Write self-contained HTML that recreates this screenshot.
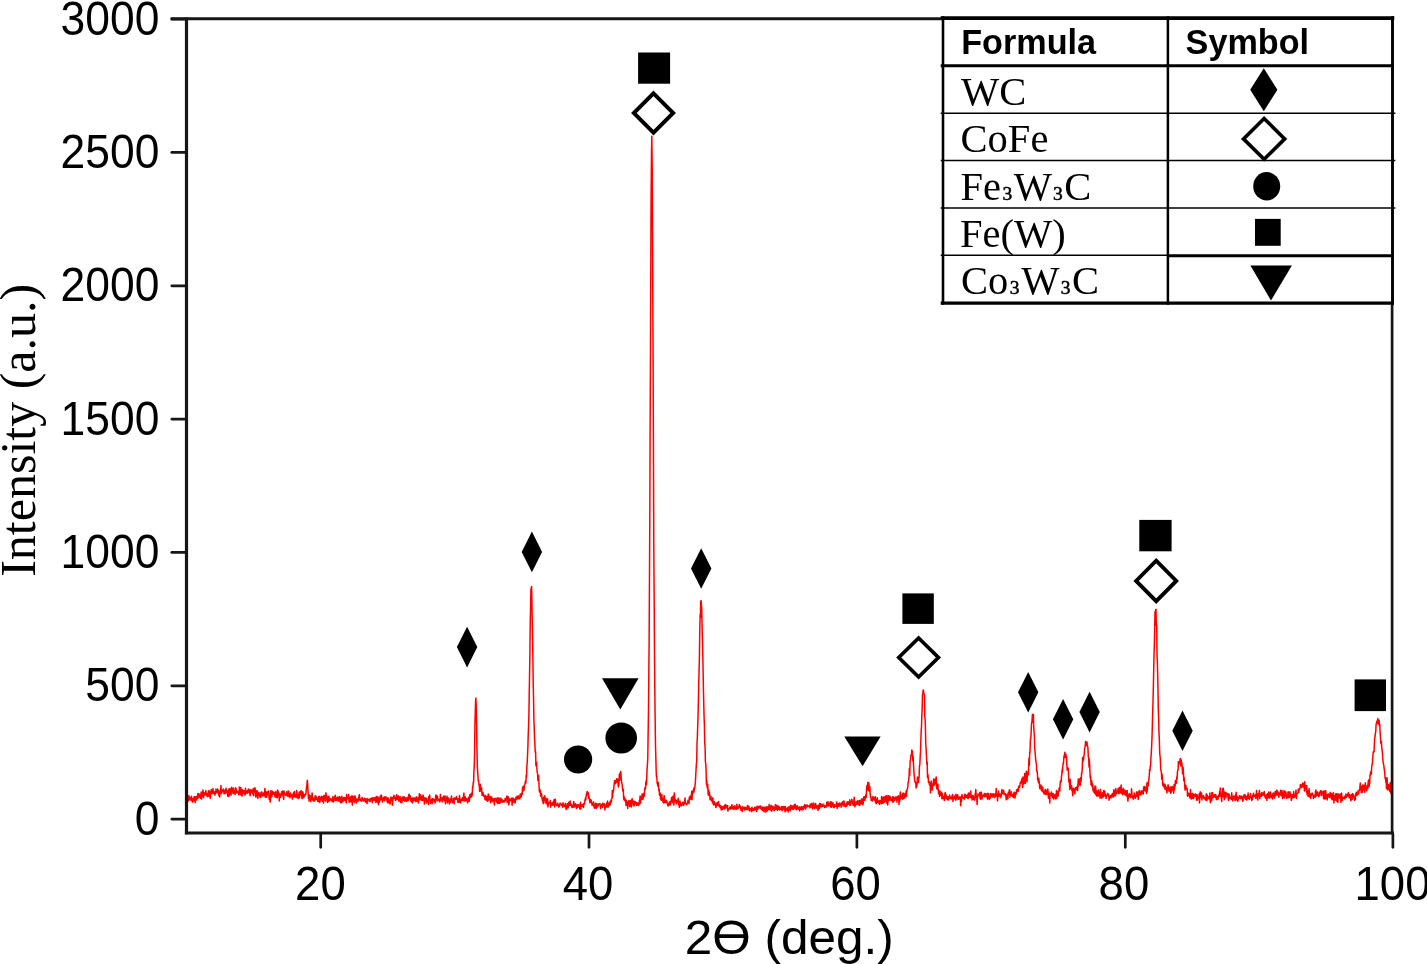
<!DOCTYPE html>
<html lang="en"><head><meta charset="utf-8"><title>XRD pattern</title>
<style>
html,body{margin:0;padding:0;background:#fff;}
body{width:1427px;height:964px;overflow:hidden;}
svg{display:block;}
.tk{font-family:"Liberation Sans",Arial,sans-serif;font-size:45.5px;fill:#000;}
.xl{font-family:"Liberation Sans",Arial,sans-serif;font-size:49.5px;fill:#000;}
.yl{font-family:"Liberation Serif","Times New Roman",serif;font-size:50px;fill:#000;}
.th{font-family:"Liberation Sans",Arial,sans-serif;font-weight:bold;font-size:34.2px;fill:#000;}
.tc{font-family:"Liberation Serif","Times New Roman",serif;font-size:40.5px;fill:#000;}
.sb{font-size:19.5px;stroke:#000;stroke-width:0.55px;}
</style></head><body>
<svg width="1427" height="964" viewBox="0 0 1427 964">
<rect width="1427" height="964" fill="#fff"/>
<clipPath id="pc"><rect x="186.5" y="19" width="1206" height="814"/></clipPath>
<g clip-path="url(#pc)">
<path fill="none" stroke="#ff0000" stroke-width="1.5" stroke-linejoin="round" d="M186.5 799.2L186.8 798.5L187.2 799.7L187.5 801.0L187.8 800.0L188.2 801.1L188.5 798.6L188.8 795.6L189.2 799.7L189.5 799.9L189.9 797.3L190.2 797.5L190.5 797.9L190.9 800.2L191.2 798.1
L191.5 796.3L191.9 800.9L192.2 798.8L192.5 802.0L192.9 800.5L193.2 801.7L193.5 797.9L193.9 800.2L194.2 796.5L194.5 796.7L194.9 797.4L195.2 802.8L195.5 798.0L195.9 796.8L196.2 796.3
L196.6 800.1L196.9 797.5L197.2 798.6L197.6 798.1L197.9 793.5L198.2 797.9L198.6 796.0L198.9 793.7L199.2 797.1L199.6 795.9L199.9 795.2L200.2 795.3L200.6 798.3L200.9 795.1L201.2 791.9
L201.6 798.9L201.9 792.9L202.2 794.7L202.6 796.5L202.9 789.9L203.3 792.8L203.6 797.6L203.9 794.4L204.3 793.0L204.6 794.9L204.9 792.6L205.3 794.4L205.6 792.5L205.9 790.5L206.3 795.7
L206.6 793.4L206.9 795.0L207.3 793.5L207.6 796.7L207.9 795.1L208.3 794.0L208.6 791.2L208.9 790.5L209.3 796.7L209.6 795.3L210.0 791.5L210.3 798.2L210.6 794.2L211.0 793.2L211.3 789.6
L211.6 791.0L212.0 793.5L212.3 793.6L212.6 793.2L213.0 788.6L213.3 793.6L213.6 793.2L214.0 791.5L214.3 792.6L214.6 792.8L215.0 795.1L215.3 792.2L215.6 793.3L216.0 789.1L216.3 790.3
L216.7 792.1L217.0 790.2L217.3 792.8L217.7 789.1L218.0 791.8L218.3 790.2L218.7 795.1L219.0 790.7L219.3 796.0L219.7 796.9L220.0 792.3L220.3 793.8L220.7 791.0L221.0 785.4L221.3 793.5
L221.7 792.9L222.0 790.7L222.3 789.9L222.7 791.6L223.0 791.6L223.4 789.1L223.7 789.6L224.0 793.7L224.4 791.1L224.7 790.7L225.0 793.6L225.4 790.1L225.7 793.1L226.0 788.2L226.4 790.3
L226.7 790.6L227.0 792.4L227.4 791.2L227.7 796.2L228.0 793.9L228.4 789.9L228.7 796.6L229.0 788.7L229.4 795.6L229.7 788.9L230.1 793.2L230.4 788.9L230.7 790.6L231.1 795.1L231.4 787.7
L231.7 787.2L232.1 791.2L232.4 791.7L232.7 791.5L233.1 793.6L233.4 788.1L233.7 792.5L234.1 791.2L234.4 793.2L234.7 792.8L235.1 794.5L235.4 787.8L235.7 791.5L236.1 788.6L236.4 791.1
L236.8 793.0L237.1 792.0L237.4 792.7L237.8 791.2L238.1 792.2L238.4 792.0L238.8 794.9L239.1 793.4L239.4 786.9L239.8 793.0L240.1 794.1L240.4 790.4L240.8 787.6L241.1 795.2L241.4 792.0
L241.8 793.1L242.1 796.1L242.4 789.6L242.8 791.6L243.1 791.4L243.5 793.6L243.8 790.4L244.1 793.1L244.5 792.1L244.8 794.6L245.1 794.9L245.5 788.3L245.8 793.1L246.1 791.1L246.5 792.0
L246.8 793.1L247.1 793.3L247.5 790.3L247.8 792.8L248.1 792.4L248.5 792.0L248.8 789.0L249.1 790.4L249.5 791.2L249.8 793.7L250.2 795.8L250.5 789.8L250.8 789.8L251.2 792.7L251.5 791.0
L251.8 790.4L252.2 790.3L252.5 790.1L252.8 793.7L253.2 788.6L253.5 795.8L253.8 790.4L254.2 791.3L254.5 790.4L254.8 787.8L255.2 788.9L255.5 795.7L255.8 797.1L256.2 790.7L256.5 795.4
L256.9 792.9L257.2 790.7L257.5 797.1L257.9 798.4L258.2 792.3L258.5 792.9L258.9 793.7L259.2 793.0L259.5 795.3L259.9 797.0L260.2 793.6L260.5 795.7L260.9 797.4L261.2 792.0L261.5 793.4
L261.9 792.3L262.2 795.8L262.5 795.0L262.9 795.9L263.2 795.6L263.6 792.9L263.9 795.4L264.2 792.6L264.6 792.6L264.9 788.4L265.2 797.1L265.6 791.3L265.9 793.8L266.2 793.6L266.6 797.3
L266.9 794.8L267.2 791.8L267.6 793.9L267.9 793.5L268.2 794.5L268.6 790.9L268.9 793.9L269.2 799.4L269.6 795.6L269.9 798.8L270.3 802.1L270.6 795.3L270.9 790.6L271.3 793.9L271.6 796.9
L271.9 796.4L272.3 791.2L272.6 793.7L272.9 794.0L273.3 794.2L273.6 794.0L273.9 792.1L274.3 792.8L274.6 793.7L274.9 796.8L275.3 793.0L275.6 796.0L275.9 791.6L276.3 797.5L276.6 794.7
L277.0 794.4L277.3 797.7L277.6 790.1L278.0 790.8L278.3 795.6L278.6 792.6L279.0 793.6L279.3 801.0L279.6 793.9L280.0 794.7L280.3 794.4L280.6 797.3L281.0 795.3L281.3 795.1L281.6 791.8
L282.0 793.9L282.3 794.8L282.6 791.0L283.0 796.2L283.3 795.8L283.7 799.3L284.0 791.0L284.3 792.5L284.7 792.7L285.0 793.3L285.3 794.7L285.7 794.4L286.0 795.6L286.3 795.5L286.7 794.9
L287.0 791.3L287.3 793.7L287.7 795.2L288.0 796.5L288.3 796.6L288.7 791.1L289.0 793.8L289.3 794.9L289.7 796.0L290.0 797.8L290.4 795.3L290.7 793.0L291.0 796.1L291.4 795.7L291.7 795.7
L292.0 794.9L292.4 799.1L292.7 795.8L293.0 797.3L293.4 793.1L293.7 797.1L294.0 793.8L294.4 791.5L294.7 796.0L295.0 796.7L295.4 794.8L295.7 795.3L296.0 797.7L296.4 794.2L296.7 790.4
L297.1 795.9L297.4 795.8L297.7 797.9L298.1 794.6L298.4 798.4L298.7 798.1L299.1 792.2L299.4 797.6L299.7 792.7L300.1 791.7L300.4 794.7L300.7 794.0L301.1 790.6L301.4 795.9L301.7 796.8
L302.1 798.7L302.4 795.3L302.7 791.7L303.1 793.0L303.4 797.7L303.8 797.5L304.1 796.7L304.4 794.7L304.8 795.9L305.1 794.7L305.4 794.0L305.8 794.5L306.1 791.9L306.4 788.2L306.8 785.6
L307.1 782.3L307.4 780.2L307.8 787.5L308.1 792.2L308.4 798.7L308.8 794.8L309.1 801.1L309.4 800.1L309.8 795.0L310.1 795.6L310.5 797.8L310.8 801.6L311.1 798.6L311.5 799.4L311.8 796.5
L312.1 792.9L312.5 797.6L312.8 799.9L313.1 800.9L313.5 798.3L313.8 798.6L314.1 800.9L314.5 798.0L314.8 800.9L315.1 795.8L315.5 795.9L315.8 795.9L316.1 799.4L316.5 797.2L316.8 798.7
L317.2 799.3L317.5 799.2L317.8 801.4L318.2 801.7L318.5 796.7L318.8 798.9L319.2 798.0L319.5 796.2L319.8 802.4L320.2 800.3L320.5 798.1L320.8 797.6L321.2 799.4L321.5 796.2L321.8 798.1
L322.2 801.3L322.5 800.7L322.8 796.7L323.2 797.5L323.5 802.9L323.9 795.5L324.2 797.2L324.5 795.5L324.9 799.4L325.2 799.2L325.5 801.1L325.9 792.8L326.2 799.0L326.5 795.0L326.9 800.0
L327.2 798.2L327.5 802.4L327.9 799.5L328.2 796.4L328.5 801.4L328.9 796.2L329.2 797.8L329.5 801.0L329.9 799.7L330.2 799.6L330.6 798.7L330.9 799.8L331.2 800.5L331.6 799.3L331.9 800.9
L332.2 801.5L332.6 798.7L332.9 796.6L333.2 802.1L333.6 798.6L333.9 800.1L334.2 800.8L334.6 796.7L334.9 799.8L335.2 795.3L335.6 800.4L335.9 797.8L336.2 799.2L336.6 800.4L336.9 797.3
L337.3 799.0L337.6 797.3L337.9 798.8L338.3 801.1L338.6 798.9L338.9 798.5L339.3 796.5L339.6 800.7L339.9 798.8L340.3 802.6L340.6 797.2L340.9 801.1L341.3 802.8L341.6 798.8L341.9 796.2
L342.3 802.1L342.6 801.1L342.9 800.4L343.3 801.2L343.6 797.8L344.0 800.5L344.3 800.3L344.6 797.4L345.0 800.4L345.3 797.7L345.6 800.9L346.0 801.4L346.3 802.9L346.6 794.5L347.0 799.4
L347.3 798.2L347.6 798.8L348.0 798.4L348.3 798.6L348.6 794.4L349.0 801.1L349.3 802.2L349.6 801.0L350.0 801.7L350.3 797.1L350.7 796.9L351.0 800.9L351.3 801.9L351.7 799.5L352.0 795.6
L352.3 805.1L352.7 797.6L353.0 801.2L353.3 796.4L353.7 801.2L354.0 799.4L354.3 802.2L354.7 801.0L355.0 795.7L355.3 796.9L355.7 799.7L356.0 800.7L356.3 803.1L356.7 799.7L357.0 798.9
L357.4 799.0L357.7 799.0L358.0 801.3L358.4 799.0L358.7 798.9L359.0 795.9L359.4 794.6L359.7 799.1L360.0 800.6L360.4 799.0L360.7 800.2L361.0 800.5L361.4 799.0L361.7 801.2L362.0 797.5
L362.4 799.1L362.7 798.3L363.0 799.3L363.4 800.5L363.7 801.0L364.1 799.4L364.4 800.1L364.7 798.3L365.1 798.9L365.4 801.9L365.7 798.7L366.1 801.9L366.4 800.3L366.7 799.6L367.1 803.6
L367.4 798.7L367.7 798.6L368.1 799.3L368.4 799.9L368.7 799.7L369.1 801.1L369.4 799.5L369.7 800.2L370.1 798.7L370.4 801.6L370.8 798.4L371.1 798.6L371.4 799.3L371.8 799.9L372.1 797.7
L372.4 802.7L372.8 797.9L373.1 798.4L373.4 798.3L373.8 798.1L374.1 800.4L374.4 799.5L374.8 797.5L375.1 798.0L375.4 798.5L375.8 802.4L376.1 797.8L376.4 796.4L376.8 796.7L377.1 798.5
L377.5 802.5L377.8 796.9L378.1 799.3L378.5 804.7L378.8 798.2L379.1 802.3L379.5 801.9L379.8 800.4L380.1 796.2L380.5 799.8L380.8 798.4L381.1 795.1L381.5 795.5L381.8 799.3L382.1 799.6
L382.5 801.9L382.8 800.6L383.1 798.1L383.5 798.2L383.8 798.8L384.2 796.8L384.5 800.8L384.8 799.2L385.2 797.4L385.5 797.8L385.8 796.7L386.2 798.2L386.5 799.8L386.8 798.3L387.2 801.3
L387.5 802.7L387.8 797.8L388.2 799.2L388.5 798.4L388.8 802.9L389.2 799.9L389.5 800.4L389.8 801.0L390.2 804.1L390.5 799.9L390.9 797.1L391.2 798.3L391.5 800.5L391.9 799.1L392.2 797.4
L392.5 805.3L392.9 799.4L393.2 797.9L393.5 797.6L393.9 795.3L394.2 796.6L394.5 798.4L394.9 798.5L395.2 797.4L395.5 800.4L395.9 799.2L396.2 797.1L396.5 794.8L396.9 799.5L397.2 799.3
L397.6 798.7L397.9 796.2L398.2 799.2L398.6 795.9L398.9 801.3L399.2 799.6L399.6 799.6L399.9 797.4L400.2 796.9L400.6 802.6L400.9 801.2L401.2 798.4L401.6 800.7L401.9 802.6L402.2 796.9
L402.6 798.1L402.9 798.1L403.2 800.3L403.6 796.9L403.9 799.8L404.3 796.8L404.6 801.3L404.9 801.1L405.3 798.8L405.6 800.8L405.9 797.7L406.3 798.7L406.6 801.3L406.9 799.1L407.3 800.0
L407.6 797.2L407.9 800.7L408.3 800.2L408.6 796.6L408.9 794.3L409.3 794.8L409.6 799.1L409.9 798.8L410.3 795.9L410.6 799.5L411.0 801.4L411.3 799.0L411.6 798.3L412.0 801.1L412.3 802.9
L412.6 802.5L413.0 797.8L413.3 801.0L413.6 799.6L414.0 798.8L414.3 797.9L414.6 800.0L415.0 798.2L415.3 801.3L415.6 800.1L416.0 801.6L416.3 796.8L416.6 799.4L417.0 801.0L417.3 800.1
L417.7 799.8L418.0 797.8L418.3 802.9L418.7 801.6L419.0 800.2L419.3 793.7L419.7 797.2L420.0 799.6L420.3 797.8L420.7 794.8L421.0 799.9L421.3 800.2L421.7 796.7L422.0 798.3L422.3 797.9
L422.7 800.5L423.0 795.1L423.3 795.6L423.7 798.1L424.0 797.8L424.4 803.9L424.7 798.0L425.0 799.8L425.4 798.4L425.7 797.9L426.0 800.1L426.4 803.1L426.7 798.6L427.0 801.0L427.4 800.1
L427.7 800.7L428.0 800.1L428.4 804.5L428.7 796.7L429.0 798.8L429.4 796.9L429.7 795.0L430.0 799.3L430.4 803.4L430.7 801.4L431.1 802.1L431.4 800.5L431.7 799.2L432.1 803.8L432.4 798.7
L432.7 802.8L433.1 798.8L433.4 799.7L433.7 800.1L434.1 799.6L434.4 800.6L434.7 800.8L435.1 803.1L435.4 799.5L435.7 795.3L436.1 795.0L436.4 796.5L436.7 797.9L437.1 800.9L437.4 796.2
L437.8 799.6L438.1 799.6L438.4 800.1L438.8 799.2L439.1 800.4L439.4 799.6L439.8 801.8L440.1 800.3L440.4 794.4L440.8 799.6L441.1 800.0L441.4 798.3L441.8 797.9L442.1 801.9L442.4 799.9
L442.8 797.4L443.1 798.8L443.4 799.2L443.8 796.0L444.1 800.9L444.5 799.3L444.8 800.6L445.1 796.1L445.5 803.8L445.8 800.9L446.1 800.6L446.5 798.0L446.8 798.1L447.1 796.3L447.5 802.9
L447.8 797.8L448.1 800.1L448.5 800.9L448.8 798.2L449.1 801.5L449.5 804.0L449.8 800.2L450.1 802.7L450.5 800.8L450.8 798.6L451.2 798.7L451.5 795.9L451.8 799.8L452.2 802.8L452.5 801.1
L452.8 801.4L453.2 802.1L453.5 798.4L453.8 800.8L454.2 803.7L454.5 797.8L454.8 799.6L455.2 798.5L455.5 799.1L455.8 797.9L456.2 799.2L456.5 796.5L456.8 798.3L457.2 798.4L457.5 798.4
L457.9 802.5L458.2 799.6L458.5 799.8L458.9 798.7L459.2 802.2L459.5 795.5L459.9 798.9L460.2 801.8L460.5 802.9L460.9 799.7L461.2 799.3L461.5 800.7L461.9 798.8L462.2 800.4L462.5 797.7
L462.9 800.6L463.2 799.0L463.5 796.7L463.9 793.0L464.2 801.0L464.6 799.8L464.9 800.6L465.2 796.8L465.6 801.1L465.9 799.6L466.2 798.5L466.6 800.5L466.9 800.4L467.2 799.2L467.6 802.8
L467.9 801.2L468.2 798.7L468.6 797.2L468.9 797.8L469.2 801.3L469.6 797.9L469.9 794.6L470.2 794.9L470.6 796.0L470.9 797.5L471.3 793.2L471.6 795.5L471.9 796.1L472.3 794.1L472.6 786.6
L472.9 787.8L473.3 782.1L473.6 782.4L473.9 771.3L474.3 765.9L474.6 750.7L474.9 725.3L475.3 711.6L475.6 701.1L475.9 698.1L476.3 708.7L476.6 724.1L476.9 746.7L477.3 764.6L477.6 770.6
L478.0 776.7L478.3 780.9L478.6 780.2L479.0 785.1L479.3 785.1L479.6 791.5L480.0 786.9L480.3 784.3L480.6 788.6L481.0 790.6L481.3 791.4L481.6 787.7L482.0 795.3L482.3 793.7L482.6 792.8
L483.0 792.5L483.3 795.9L483.6 794.5L484.0 796.4L484.3 795.8L484.7 796.8L485.0 799.5L485.3 797.2L485.7 795.4L486.0 800.0L486.3 798.6L486.7 796.7L487.0 800.9L487.3 798.2L487.7 801.2
L488.0 796.4L488.3 794.0L488.7 794.8L489.0 799.9L489.3 797.9L489.7 799.3L490.0 799.5L490.3 796.4L490.7 802.7L491.0 797.6L491.4 800.1L491.7 797.0L492.0 799.7L492.4 801.6L492.7 799.6
L493.0 798.6L493.4 800.2L493.7 799.2L494.0 801.5L494.4 805.0L494.7 798.4L495.0 798.9L495.4 800.1L495.7 800.3L496.0 798.3L496.4 801.5L496.7 802.1L497.0 801.0L497.4 798.0L497.7 803.6
L498.1 798.1L498.4 802.0L498.7 803.0L499.1 798.0L499.4 800.9L499.7 803.5L500.1 801.5L500.4 798.7L500.7 798.2L501.1 801.7L501.4 799.9L501.7 799.2L502.1 802.2L502.4 800.0L502.7 800.9
L503.1 801.9L503.4 801.9L503.7 800.7L504.1 800.7L504.4 802.0L504.8 801.7L505.1 798.4L505.4 800.3L505.8 798.9L506.1 798.2L506.4 799.5L506.8 795.9L507.1 802.5L507.4 799.0L507.8 801.4
L508.1 796.7L508.4 797.1L508.8 804.9L509.1 802.7L509.4 799.2L509.8 798.9L510.1 799.0L510.4 800.7L510.8 799.5L511.1 799.0L511.5 800.6L511.8 798.1L512.1 805.2L512.5 798.9L512.8 802.4
L513.1 798.0L513.5 800.5L513.8 801.9L514.1 799.1L514.5 801.8L514.8 801.7L515.1 803.0L515.5 799.5L515.8 798.3L516.1 796.9L516.5 799.4L516.8 796.6L517.1 798.7L517.5 798.8L517.8 797.1
L518.2 795.8L518.5 798.7L518.8 798.3L519.2 797.8L519.5 796.9L519.8 798.9L520.2 794.0L520.5 797.0L520.8 794.5L521.2 797.2L521.5 793.7L521.8 793.1L522.2 794.5L522.5 787.5L522.8 790.9
L523.2 786.3L523.5 787.4L523.8 790.7L524.2 788.7L524.5 784.9L524.9 784.3L525.2 782.4L525.5 781.1L525.9 783.0L526.2 775.2L526.5 777.3L526.9 765.1L527.2 762.9L527.5 756.2L527.9 746.6
L528.2 735.3L528.5 728.3L528.9 714.9L529.2 695.8L529.5 679.1L529.9 654.1L530.2 623.8L530.5 610.7L530.9 589.7L531.2 588.3L531.6 586.5L531.9 601.1L532.2 619.7L532.6 640.0L532.9 658.6
L533.2 683.6L533.6 701.5L533.9 719.7L534.2 727.2L534.6 739.5L534.9 743.9L535.2 752.3L535.6 751.4L535.9 765.7L536.2 763.3L536.6 762.1L536.9 768.2L537.2 772.4L537.6 774.0L537.9 780.6
L538.3 779.3L538.6 775.4L538.9 782.0L539.3 790.8L539.6 792.0L539.9 792.3L540.3 790.0L540.6 795.8L540.9 796.3L541.3 793.3L541.6 794.0L541.9 797.6L542.3 799.9L542.6 801.3L542.9 799.8
L543.3 803.6L543.6 797.3L543.9 800.7L544.3 798.6L544.6 795.8L545.0 797.6L545.3 802.9L545.6 798.8L546.0 798.4L546.3 802.7L546.6 803.3L547.0 801.7L547.3 805.0L547.6 798.8L548.0 807.0
L548.3 804.4L548.6 802.8L549.0 802.9L549.3 802.2L549.6 802.1L550.0 803.2L550.3 800.6L550.6 807.3L551.0 803.1L551.3 804.6L551.7 803.0L552.0 803.0L552.3 805.3L552.7 804.8L553.0 802.1
L553.3 803.1L553.7 805.1L554.0 799.9L554.3 799.5L554.7 806.9L555.0 803.5L555.3 799.3L555.7 802.7L556.0 803.9L556.3 804.8L556.7 805.4L557.0 804.9L557.3 805.6L557.7 803.2L558.0 805.4
L558.4 805.5L558.7 807.0L559.0 804.9L559.4 806.5L559.7 805.2L560.0 803.0L560.4 804.3L560.7 804.0L561.0 804.4L561.4 804.9L561.7 805.3L562.0 805.7L562.4 803.7L562.7 807.2L563.0 802.7
L563.4 805.1L563.7 806.6L564.0 806.1L564.4 806.5L564.7 805.0L565.1 806.6L565.4 803.2L565.7 806.8L566.1 809.5L566.4 806.7L566.7 809.1L567.1 805.5L567.4 803.5L567.7 804.3L568.1 807.9
L568.4 806.9L568.7 802.2L569.1 804.9L569.4 805.5L569.7 803.6L570.1 801.1L570.4 803.2L570.7 805.3L571.1 804.9L571.4 804.5L571.8 806.7L572.1 807.5L572.4 805.5L572.8 807.3L573.1 805.7
L573.4 805.4L573.8 801.4L574.1 807.2L574.4 805.9L574.8 805.9L575.1 804.8L575.4 803.7L575.8 806.5L576.1 807.1L576.4 808.6L576.8 807.3L577.1 804.6L577.4 805.5L577.8 807.4L578.1 806.2
L578.5 805.5L578.8 804.6L579.1 806.6L579.5 805.9L579.8 808.8L580.1 807.5L580.5 802.3L580.8 809.3L581.1 805.8L581.5 804.7L581.8 805.7L582.1 806.3L582.5 804.8L582.8 804.4L583.1 804.3
L583.5 807.4L583.8 803.6L584.1 804.6L584.5 803.3L584.8 801.0L585.2 799.3L585.5 797.8L585.8 799.9L586.2 795.6L586.5 793.9L586.8 793.0L587.2 791.5L587.5 794.8L587.8 794.7L588.2 792.4
L588.5 798.3L588.8 795.3L589.2 798.0L589.5 798.6L589.8 802.8L590.2 801.8L590.5 800.8L590.8 799.7L591.2 800.3L591.5 803.1L591.9 803.9L592.2 805.5L592.5 803.5L592.9 805.0L593.2 803.7
L593.5 801.7L593.9 805.2L594.2 808.0L594.5 807.0L594.9 808.1L595.2 807.7L595.5 803.2L595.9 805.2L596.2 808.5L596.5 804.6L596.9 803.5L597.2 806.5L597.5 807.0L597.9 806.5L598.2 805.4
L598.6 804.7L598.9 803.8L599.2 803.7L599.6 803.8L599.9 803.5L600.2 804.7L600.6 808.7L600.9 806.1L601.2 805.3L601.6 806.5L601.9 804.2L602.2 806.5L602.6 807.5L602.9 803.1L603.2 804.5
L603.6 805.3L603.9 804.0L604.2 803.7L604.6 805.0L604.9 810.0L605.3 806.7L605.6 806.3L605.9 807.2L606.3 804.9L606.6 803.0L606.9 806.0L607.3 807.1L607.6 801.1L607.9 805.6L608.3 807.0
L608.6 804.0L608.9 803.5L609.3 805.4L609.6 802.2L609.9 804.3L610.3 804.7L610.6 802.0L610.9 800.0L611.3 802.1L611.6 799.0L612.0 798.7L612.3 790.4L612.6 797.2L613.0 790.2L613.3 791.9
L613.6 790.1L614.0 785.7L614.3 783.2L614.6 780.4L615.0 781.9L615.3 783.8L615.6 783.4L616.0 780.4L616.3 780.6L616.6 778.8L617.0 782.2L617.3 780.5L617.6 779.1L618.0 782.8L618.3 787.0
L618.7 785.0L619.0 784.5L619.3 774.2L619.7 780.2L620.0 773.1L620.3 774.7L620.7 771.6L621.0 774.8L621.3 779.7L621.7 782.1L622.0 783.6L622.3 785.9L622.7 790.3L623.0 791.2L623.3 789.2
L623.7 799.3L624.0 796.2L624.3 800.3L624.7 799.0L625.0 798.5L625.4 801.2L625.7 800.1L626.0 805.5L626.4 800.3L626.7 804.1L627.0 801.9L627.4 802.9L627.7 808.5L628.0 805.0L628.4 803.2
L628.7 800.7L629.0 803.2L629.4 803.3L629.7 806.6L630.0 801.1L630.4 800.3L630.7 803.8L631.0 804.3L631.4 807.0L631.7 802.1L632.1 798.5L632.4 802.3L632.7 801.2L633.1 802.6L633.4 805.5
L633.7 800.9L634.1 805.9L634.4 803.8L634.7 802.8L635.1 801.5L635.4 802.3L635.7 802.2L636.1 804.4L636.4 805.3L636.7 802.5L637.1 803.9L637.4 805.0L637.7 804.7L638.1 802.9L638.4 805.6
L638.8 804.3L639.1 804.7L639.4 800.6L639.8 799.8L640.1 796.1L640.4 803.3L640.8 801.2L641.1 797.2L641.4 799.3L641.8 799.1L642.1 793.9L642.4 798.0L642.8 799.3L643.1 799.0L643.4 794.1
L643.8 793.3L644.1 796.5L644.4 794.4L644.8 789.0L645.1 787.3L645.5 789.0L645.8 783.2L646.1 780.8L646.5 784.6L646.8 776.1L647.1 768.4L647.5 763.6L647.8 757.2L648.1 735.7L648.5 709.9
L648.8 675.8L649.1 644.4L649.5 575.2L649.8 519.1L650.1 434.8L650.5 349.5L650.8 266.6L651.1 197.0L651.5 153.4L651.8 136.3L652.2 167.3L652.5 231.6L652.8 293.9L653.2 385.2L653.5 464.5
L653.8 546.7L654.2 602.1L654.5 651.6L654.8 689.7L655.2 722.2L655.5 745.5L655.8 756.2L656.2 771.8L656.5 777.0L656.8 776.6L657.2 783.5L657.5 783.9L657.8 786.1L658.2 782.3L658.5 785.9
L658.9 791.0L659.2 789.0L659.5 795.3L659.9 795.1L660.2 792.9L660.5 798.9L660.9 797.3L661.2 800.3L661.5 797.5L661.9 794.6L662.2 800.5L662.5 798.7L662.9 801.6L663.2 802.4L663.5 802.9
L663.9 797.4L664.2 795.7L664.5 800.0L664.9 802.8L665.2 800.0L665.6 802.3L665.9 800.2L666.2 801.4L666.6 801.5L666.9 801.0L667.2 803.5L667.6 803.3L667.9 806.0L668.2 803.5L668.6 805.5
L668.9 802.9L669.2 804.5L669.6 802.3L669.9 801.4L670.2 805.1L670.6 803.7L670.9 803.7L671.2 799.9L671.6 797.6L671.9 799.0L672.3 801.2L672.6 796.8L672.9 803.0L673.3 796.0L673.6 800.5
L673.9 805.1L674.3 792.9L674.6 795.4L674.9 801.5L675.3 799.1L675.6 800.4L675.9 800.1L676.3 803.9L676.6 802.7L676.9 800.7L677.3 801.6L677.6 800.0L677.9 802.5L678.3 798.3L678.6 804.6
L679.0 802.9L679.3 807.3L679.6 806.1L680.0 801.1L680.3 805.6L680.6 802.8L681.0 804.0L681.3 805.9L681.6 804.5L682.0 804.8L682.3 804.8L682.6 802.3L683.0 802.5L683.3 804.8L683.6 805.4
L684.0 803.0L684.3 803.7L684.6 801.3L685.0 798.0L685.3 801.5L685.7 803.1L686.0 803.3L686.3 804.5L686.7 804.4L687.0 804.5L687.3 803.1L687.7 802.9L688.0 800.3L688.3 802.4L688.7 801.8
L689.0 803.6L689.3 797.2L689.7 799.3L690.0 796.2L690.3 797.9L690.7 795.9L691.0 799.3L691.3 796.5L691.7 791.3L692.0 799.8L692.4 793.3L692.7 791.1L693.0 793.2L693.4 791.2L693.7 788.5
L694.0 792.0L694.4 787.2L694.7 788.6L695.0 785.4L695.4 781.9L695.7 776.3L696.0 770.5L696.4 763.6L696.7 762.2L697.0 743.5L697.4 736.2L697.7 726.3L698.0 716.8L698.4 701.9L698.7 684.7
L699.1 669.0L699.4 659.0L699.7 635.7L700.1 614.7L700.4 617.7L700.7 601.4L701.1 600.7L701.4 604.8L701.7 607.9L702.1 627.3L702.4 637.6L702.7 649.6L703.1 671.1L703.4 687.9L703.7 701.5
L704.1 717.4L704.4 724.0L704.7 742.8L705.1 747.2L705.4 762.1L705.8 763.4L706.1 771.7L706.4 784.3L706.8 780.5L707.1 787.1L707.4 787.9L707.8 784.6L708.1 793.9L708.4 795.3L708.8 790.1
L709.1 794.7L709.4 792.2L709.8 796.1L710.1 799.8L710.4 798.6L710.8 796.2L711.1 797.5L711.4 800.1L711.8 800.5L712.1 801.3L712.5 802.7L712.8 797.7L713.1 802.2L713.5 804.9L713.8 803.8
L714.1 801.6L714.5 802.0L714.8 803.9L715.1 805.2L715.5 804.0L715.8 807.5L716.1 807.0L716.5 803.0L716.8 805.7L717.1 804.2L717.5 802.7L717.8 804.0L718.1 805.3L718.5 801.5L718.8 804.3
L719.2 806.4L719.5 804.5L719.8 805.2L720.2 807.6L720.5 806.0L720.8 806.5L721.2 809.9L721.5 806.6L721.8 806.9L722.2 807.3L722.5 809.5L722.8 807.2L723.2 806.7L723.5 806.5L723.8 808.8
L724.2 805.7L724.5 809.0L724.8 807.3L725.2 804.6L725.5 808.2L725.9 807.9L726.2 805.2L726.5 807.8L726.9 807.7L727.2 806.8L727.5 805.4L727.9 811.1L728.2 808.7L728.5 809.1L728.9 809.2
L729.2 808.9L729.5 808.9L729.9 806.9L730.2 809.0L730.5 807.3L730.9 806.8L731.2 808.8L731.5 807.3L731.9 804.7L732.2 807.0L732.6 808.7L732.9 807.7L733.2 809.2L733.6 807.2L733.9 806.2
L734.2 809.1L734.6 808.1L734.9 805.8L735.2 808.6L735.6 807.4L735.9 809.5L736.2 809.2L736.6 808.7L736.9 804.2L737.2 808.5L737.6 808.7L737.9 808.8L738.2 808.1L738.6 806.8L738.9 807.6
L739.3 804.5L739.6 807.5L739.9 805.5L740.3 807.5L740.6 806.9L740.9 810.3L741.3 808.2L741.6 808.1L741.9 808.4L742.3 811.5L742.6 806.5L742.9 808.6L743.3 808.7L743.6 808.4L743.9 808.4
L744.3 807.3L744.6 810.1L744.9 809.6L745.3 807.6L745.6 807.8L746.0 808.7L746.3 809.0L746.6 809.4L747.0 808.2L747.3 806.1L747.6 809.8L748.0 805.6L748.3 806.7L748.6 808.8L749.0 806.8
L749.3 810.5L749.6 810.9L750.0 810.2L750.3 808.8L750.6 808.7L751.0 809.0L751.3 808.0L751.6 811.6L752.0 807.3L752.3 810.5L752.7 809.2L753.0 808.8L753.3 810.0L753.7 810.4L754.0 809.8
L754.3 808.2L754.7 807.2L755.0 807.2L755.3 809.8L755.7 809.5L756.0 809.7L756.3 807.4L756.7 811.5L757.0 806.2L757.3 809.0L757.7 809.5L758.0 807.6L758.3 806.5L758.7 807.6L759.0 806.5
L759.4 808.0L759.7 806.2L760.0 806.2L760.4 808.4L760.7 805.9L761.0 807.9L761.4 808.1L761.7 809.7L762.0 808.7L762.4 807.0L762.7 810.4L763.0 807.2L763.4 807.7L763.7 807.8L764.0 811.8
L764.4 808.4L764.7 807.2L765.0 809.5L765.4 808.1L765.7 812.1L766.1 807.1L766.4 809.3L766.7 806.8L767.1 811.2L767.4 807.1L767.7 808.6L768.1 806.9L768.4 809.7L768.7 809.2L769.1 804.6
L769.4 809.6L769.7 809.4L770.1 808.7L770.4 809.9L770.7 806.3L771.1 805.4L771.4 809.4L771.7 811.1L772.1 806.3L772.4 806.4L772.8 806.9L773.1 806.4L773.4 809.7L773.8 808.5L774.1 810.5
L774.4 810.6L774.8 806.7L775.1 809.3L775.4 804.5L775.8 808.1L776.1 809.3L776.4 807.0L776.8 805.3L777.1 807.5L777.4 810.2L777.8 807.6L778.1 806.0L778.4 809.1L778.8 809.5L779.1 806.6
L779.5 808.0L779.8 810.0L780.1 808.9L780.5 809.5L780.8 807.8L781.1 808.1L781.5 806.4L781.8 807.1L782.1 810.8L782.5 807.6L782.8 806.8L783.1 807.5L783.5 806.6L783.8 809.1L784.1 809.8
L784.5 806.7L784.8 810.0L785.1 811.8L785.5 806.6L785.8 809.4L786.2 808.7L786.5 810.5L786.8 810.4L787.2 810.1L787.5 808.8L787.8 807.6L788.2 812.0L788.5 807.0L788.8 810.2L789.2 810.0
L789.5 807.1L789.8 808.4L790.2 810.7L790.5 805.2L790.8 809.6L791.2 807.8L791.5 807.8L791.8 805.8L792.2 808.8L792.5 806.4L792.9 809.3L793.2 806.2L793.5 809.3L793.9 808.6L794.2 804.8
L794.5 807.4L794.9 807.7L795.2 804.2L795.5 807.3L795.9 809.2L796.2 806.6L796.5 809.8L796.9 805.9L797.2 805.8L797.5 808.7L797.9 808.8L798.2 807.4L798.5 807.7L798.9 809.3L799.2 806.7
L799.6 811.0L799.9 808.3L800.2 808.2L800.6 808.0L800.9 807.0L801.2 809.6L801.6 806.5L801.9 807.8L802.2 808.5L802.6 809.7L802.9 809.4L803.2 806.8L803.6 809.0L803.9 807.2L804.2 805.5
L804.6 805.5L804.9 804.6L805.2 807.7L805.6 809.1L805.9 805.4L806.3 806.6L806.6 805.2L806.9 807.1L807.3 805.1L807.6 805.6L807.9 805.8L808.3 806.2L808.6 806.3L808.9 806.6L809.3 806.6
L809.6 805.2L809.9 807.8L810.3 803.9L810.6 807.1L810.9 805.1L811.3 807.0L811.6 807.2L811.9 803.3L812.3 807.3L812.6 809.0L813.0 808.0L813.3 807.3L813.6 802.9L814.0 806.3L814.3 805.0
L814.6 808.4L815.0 806.0L815.3 805.4L815.6 803.4L816.0 807.7L816.3 805.4L816.6 805.9L817.0 808.3L817.3 806.5L817.6 806.9L818.0 810.5L818.3 805.3L818.6 805.4L819.0 807.1L819.3 808.7
L819.7 803.6L820.0 805.8L820.3 804.4L820.7 803.7L821.0 807.1L821.3 804.7L821.7 806.6L822.0 806.2L822.3 806.2L822.7 806.1L823.0 804.0L823.3 805.8L823.7 806.3L824.0 806.5L824.3 805.3
L824.7 807.5L825.0 806.8L825.3 806.0L825.7 806.9L826.0 806.0L826.4 806.9L826.7 802.2L827.0 803.4L827.4 804.9L827.7 805.8L828.0 801.7L828.4 805.1L828.7 805.8L829.0 805.1L829.4 805.0
L829.7 803.0L830.0 805.6L830.4 801.7L830.7 807.1L831.0 804.2L831.4 807.2L831.7 802.0L832.0 805.9L832.4 805.4L832.7 803.5L833.1 802.9L833.4 807.2L833.7 805.8L834.1 807.7L834.4 804.8
L834.7 805.2L835.1 805.6L835.4 806.2L835.7 805.6L836.1 806.3L836.4 803.8L836.7 801.9L837.1 808.4L837.4 804.9L837.7 805.5L838.1 803.7L838.4 806.4L838.7 804.8L839.1 806.5L839.4 803.1
L839.8 804.2L840.1 804.7L840.4 803.6L840.8 804.8L841.1 807.2L841.4 803.1L841.8 803.6L842.1 804.5L842.4 802.2L842.8 801.7L843.1 806.1L843.4 805.5L843.8 801.0L844.1 801.2L844.4 805.3
L844.8 806.1L845.1 805.0L845.4 804.7L845.8 806.8L846.1 803.6L846.5 806.1L846.8 806.0L847.1 801.8L847.5 804.9L847.8 803.6L848.1 802.2L848.5 801.8L848.8 804.0L849.1 803.2L849.5 804.9
L849.8 799.8L850.1 801.9L850.5 805.3L850.8 803.1L851.1 801.6L851.5 802.0L851.8 799.3L852.1 800.2L852.5 804.0L852.8 803.0L853.2 805.4L853.5 802.2L853.8 802.4L854.2 797.2L854.5 802.4
L854.8 806.8L855.2 803.9L855.5 802.2L855.8 805.0L856.2 804.2L856.5 803.1L856.8 801.6L857.2 802.6L857.5 804.1L857.8 800.6L858.2 803.3L858.5 803.2L858.8 804.9L859.2 803.7L859.5 800.6
L859.9 805.3L860.2 802.0L860.5 800.3L860.9 802.5L861.2 801.1L861.5 803.9L861.9 798.7L862.2 799.0L862.5 800.7L862.9 804.8L863.2 803.1L863.5 798.6L863.9 796.7L864.2 799.4L864.5 796.8
L864.9 800.3L865.2 798.4L865.5 796.9L865.9 794.4L866.2 797.5L866.6 789.1L866.9 785.6L867.2 790.1L867.6 788.7L867.9 782.2L868.2 784.8L868.6 790.7L868.9 783.0L869.2 787.2L869.6 791.3
L869.9 786.7L870.2 793.8L870.6 797.5L870.9 796.7L871.2 800.4L871.6 800.4L871.9 798.4L872.2 800.8L872.6 800.9L872.9 796.5L873.3 798.4L873.6 798.6L873.9 799.3L874.3 799.5L874.6 797.5
L874.9 800.7L875.3 796.7L875.6 802.7L875.9 801.3L876.3 803.7L876.6 801.5L876.9 799.7L877.3 797.7L877.6 802.2L877.9 800.8L878.3 801.5L878.6 802.3L878.9 803.3L879.3 800.6L879.6 804.4
L880.0 800.5L880.3 800.7L880.6 802.1L881.0 802.8L881.3 803.6L881.6 796.6L882.0 803.5L882.3 797.2L882.6 799.2L883.0 801.3L883.3 803.0L883.6 798.2L884.0 796.7L884.3 802.4L884.6 801.0
L885.0 798.1L885.3 799.6L885.6 795.9L886.0 801.5L886.3 799.0L886.7 802.9L887.0 795.6L887.3 801.7L887.7 804.9L888.0 800.3L888.3 800.3L888.7 795.8L889.0 800.7L889.3 799.9L889.7 798.5
L890.0 796.3L890.3 799.9L890.7 797.4L891.0 798.5L891.3 800.3L891.7 799.4L892.0 799.5L892.3 801.5L892.7 796.7L893.0 802.5L893.4 796.7L893.7 797.2L894.0 799.4L894.4 800.9L894.7 799.6
L895.0 798.0L895.4 797.3L895.7 798.3L896.0 796.7L896.4 800.1L896.7 798.2L897.0 802.2L897.4 796.9L897.7 798.2L898.0 799.4L898.4 795.7L898.7 796.7L899.0 804.6L899.4 798.0L899.7 801.3
L900.1 795.4L900.4 792.1L900.7 798.9L901.1 797.4L901.4 798.1L901.7 796.5L902.1 795.7L902.4 794.1L902.7 799.3L903.1 793.0L903.4 798.8L903.7 795.7L904.1 793.4L904.4 794.2L904.7 797.9
L905.1 797.0L905.4 796.0L905.7 794.6L906.1 791.0L906.4 796.5L906.8 791.2L907.1 789.8L907.4 788.6L907.8 787.2L908.1 782.2L908.4 782.7L908.8 778.7L909.1 776.1L909.4 768.6L909.8 775.2
L910.1 761.1L910.4 761.0L910.8 756.7L911.1 755.0L911.4 755.3L911.8 750.1L912.1 752.1L912.4 751.1L912.8 760.6L913.1 756.1L913.5 763.9L913.8 769.5L914.1 774.5L914.5 778.0L914.8 781.6
L915.1 782.0L915.5 781.9L915.8 783.6L916.1 788.0L916.5 784.8L916.8 786.6L917.1 783.0L917.5 777.1L917.8 779.6L918.1 780.8L918.5 782.6L918.8 779.3L919.1 776.8L919.5 765.5L919.8 765.1
L920.2 756.8L920.5 752.1L920.8 742.3L921.2 729.8L921.5 726.7L921.8 716.1L922.2 707.9L922.5 694.4L922.8 693.4L923.2 689.9L923.5 690.3L923.8 693.6L924.2 694.2L924.5 696.3L924.8 716.3
L925.2 720.3L925.5 731.8L925.8 744.7L926.2 750.2L926.5 757.1L926.9 764.5L927.2 761.9L927.5 777.6L927.9 774.4L928.2 777.5L928.5 782.6L928.9 782.3L929.2 781.6L929.5 785.0L929.9 785.1
L930.2 784.9L930.5 793.0L930.9 783.3L931.2 781.0L931.5 784.3L931.9 783.8L932.2 790.1L932.5 785.5L932.9 786.6L933.2 784.9L933.6 779.1L933.9 783.3L934.2 780.4L934.6 785.1L934.9 779.7
L935.2 779.1L935.6 782.2L935.9 783.3L936.2 776.9L936.6 787.6L936.9 788.6L937.2 789.3L937.6 785.1L937.9 784.1L938.2 790.0L938.6 793.8L938.9 793.9L939.2 790.8L939.6 796.4L939.9 791.0
L940.3 791.6L940.6 795.2L940.9 794.1L941.3 794.1L941.6 792.3L941.9 798.7L942.3 793.5L942.6 797.4L942.9 798.4L943.3 796.4L943.6 797.2L943.9 799.1L944.3 800.6L944.6 799.2L944.9 793.6
L945.3 792.4L945.6 795.6L945.9 794.4L946.3 798.4L946.6 797.4L947.0 796.6L947.3 799.8L947.6 799.6L948.0 797.1L948.3 798.1L948.6 799.9L949.0 796.5L949.3 798.1L949.6 795.1L950.0 797.5
L950.3 798.2L950.6 797.2L951.0 797.9L951.3 799.1L951.6 798.4L952.0 795.8L952.3 796.0L952.6 794.5L953.0 801.4L953.3 798.4L953.7 798.5L954.0 797.1L954.3 798.5L954.7 798.7L955.0 795.6
L955.3 797.0L955.7 800.2L956.0 794.3L956.3 795.1L956.7 798.7L957.0 795.5L957.3 799.1L957.7 794.7L958.0 797.9L958.3 799.2L958.7 798.2L959.0 799.1L959.3 796.9L959.7 796.9L960.0 797.2
L960.4 798.6L960.7 805.8L961.0 797.0L961.4 801.6L961.7 796.6L962.0 794.5L962.4 796.5L962.7 798.1L963.0 797.5L963.4 797.4L963.7 798.4L964.0 798.4L964.4 799.2L964.7 794.2L965.0 797.1
L965.4 794.7L965.7 797.6L966.0 796.8L966.4 797.3L966.7 795.8L967.1 795.0L967.4 796.3L967.7 798.4L968.1 798.7L968.4 792.9L968.7 797.5L969.1 797.5L969.4 793.3L969.7 794.2L970.1 795.5
L970.4 797.6L970.7 791.1L971.1 795.7L971.4 795.3L971.7 797.0L972.1 799.9L972.4 799.7L972.7 795.6L973.1 795.6L973.4 797.1L973.8 799.3L974.1 799.9L974.4 797.2L974.8 799.9L975.1 794.2
L975.4 793.6L975.8 789.6L976.1 794.2L976.4 797.7L976.8 798.4L977.1 804.5L977.4 797.7L977.8 796.6L978.1 793.9L978.4 794.7L978.8 794.7L979.1 795.6L979.4 794.5L979.8 792.6L980.1 798.6
L980.5 797.1L980.8 799.3L981.1 792.1L981.5 792.8L981.8 794.1L982.1 798.8L982.5 795.4L982.8 796.4L983.1 795.6L983.5 796.2L983.8 794.5L984.1 796.7L984.5 793.6L984.8 795.1L985.1 796.4
L985.5 795.9L985.8 796.7L986.1 793.6L986.5 796.2L986.8 794.8L987.2 796.5L987.5 799.1L987.8 793.2L988.2 798.0L988.5 793.7L988.8 794.3L989.2 799.4L989.5 797.6L989.8 796.5L990.2 797.3
L990.5 798.1L990.8 793.4L991.2 795.8L991.5 794.2L991.8 796.2L992.2 794.3L992.5 796.9L992.8 795.1L993.2 793.6L993.5 794.9L993.9 796.1L994.2 797.6L994.5 794.5L994.9 794.0L995.2 795.5
L995.5 796.7L995.9 793.4L996.2 788.6L996.5 795.4L996.9 793.8L997.2 793.7L997.5 801.0L997.9 794.3L998.2 796.3L998.5 791.1L998.9 795.1L999.2 796.4L999.5 794.9L999.9 794.0
L1000.2 795.8L1000.6 794.5L1000.9 797.7L1001.2 794.9L1001.6 792.5L1001.9 789.5L1002.2 792.6L1002.6 793.7L1002.9 791.5L1003.2 791.9L1003.6 790.3L1003.9 791.7L1004.2 794.7
L1004.6 793.8L1004.9 794.0L1005.2 793.7L1005.6 793.9L1005.9 796.4L1006.2 799.7L1006.6 796.1L1006.9 799.5L1007.3 794.2L1007.6 794.4L1007.9 798.6L1008.3 792.7L1008.6 792.2
L1008.9 794.1L1009.3 790.2L1009.6 789.7L1009.9 797.3L1010.3 791.7L1010.6 793.1L1010.9 793.2L1011.3 791.8L1011.6 795.9L1011.9 795.6L1012.3 796.1L1012.6 795.9L1012.9 794.2
L1013.3 797.5L1013.6 796.4L1014.0 792.2L1014.3 793.7L1014.6 792.5L1015.0 798.1L1015.3 795.1L1015.6 794.4L1016.0 792.6L1016.3 794.0L1016.6 789.7L1017.0 792.0L1017.3 791.4
L1017.6 791.0L1018.0 788.6L1018.3 791.2L1018.6 786.3L1019.0 787.4L1019.3 787.5L1019.6 787.1L1020.0 784.9L1020.3 782.7L1020.7 782.1L1021.0 783.0L1021.3 780.8L1021.7 782.4
L1022.0 778.4L1022.3 781.8L1022.7 787.5L1023.0 777.0L1023.3 780.4L1023.7 784.0L1024.0 780.9L1024.3 782.6L1024.7 773.4L1025.0 777.8L1025.3 783.5L1025.7 776.7L1026.0 778.9
L1026.3 771.2L1026.7 779.2L1027.0 781.7L1027.4 773.6L1027.7 773.3L1028.0 771.8L1028.4 774.8L1028.7 764.7L1029.0 758.0L1029.4 765.2L1029.7 752.1L1030.0 752.7L1030.4 739.0
L1030.7 739.2L1031.0 735.4L1031.4 725.8L1031.7 722.3L1032.0 721.3L1032.4 714.6L1032.7 717.3L1033.0 722.4L1033.4 714.3L1033.7 726.1L1034.1 732.5L1034.4 735.7L1034.7 747.4
L1035.1 752.6L1035.4 755.4L1035.7 760.2L1036.1 762.7L1036.4 763.3L1036.7 771.2L1037.1 771.1L1037.4 773.1L1037.7 780.1L1038.1 777.9L1038.4 782.8L1038.7 778.2L1039.1 781.1
L1039.4 783.5L1039.7 788.4L1040.1 785.0L1040.4 788.4L1040.8 784.9L1041.1 787.9L1041.4 790.5L1041.8 786.3L1042.1 787.5L1042.4 791.6L1042.8 787.4L1043.1 791.8L1043.4 792.3
L1043.8 791.5L1044.1 794.2L1044.4 793.7L1044.8 793.3L1045.1 789.4L1045.4 789.7L1045.8 794.5L1046.1 790.0L1046.4 794.4L1046.8 793.5L1047.1 792.5L1047.5 794.1L1047.8 789.1
L1048.1 794.6L1048.5 798.2L1048.8 792.2L1049.1 796.5L1049.5 796.4L1049.8 802.9L1050.1 793.4L1050.5 793.9L1050.8 794.0L1051.1 793.6L1051.5 791.9L1051.8 796.2L1052.1 793.8
L1052.5 797.8L1052.8 796.8L1053.1 793.4L1053.5 795.0L1053.8 799.1L1054.2 794.9L1054.5 796.1L1054.8 797.6L1055.2 794.4L1055.5 796.3L1055.8 799.0L1056.2 797.8L1056.5 790.4
L1056.8 798.3L1057.2 793.7L1057.5 792.3L1057.8 791.7L1058.2 795.9L1058.5 792.9L1058.8 790.9L1059.2 788.1L1059.5 790.8L1059.8 790.9L1060.2 783.1L1060.5 780.9L1060.9 781.0
L1061.2 781.6L1061.5 776.0L1061.9 774.1L1062.2 769.1L1062.5 772.3L1062.9 765.2L1063.2 763.1L1063.5 763.2L1063.9 756.8L1064.2 755.3L1064.5 755.3L1064.9 752.2L1065.2 757.6
L1065.5 754.3L1065.9 754.3L1066.2 756.8L1066.5 756.8L1066.9 766.3L1067.2 770.1L1067.6 767.9L1067.9 770.1L1068.2 768.0L1068.6 775.1L1068.9 782.0L1069.2 779.2L1069.6 786.0
L1069.9 789.6L1070.2 779.3L1070.6 787.1L1070.9 787.0L1071.2 788.3L1071.6 785.7L1071.9 790.4L1072.2 788.3L1072.6 794.6L1072.9 795.7L1073.2 788.5L1073.6 788.5L1073.9 791.0
L1074.3 791.7L1074.6 791.8L1074.9 793.8L1075.3 787.8L1075.6 789.7L1075.9 789.7L1076.3 789.5L1076.6 787.0L1076.9 787.7L1077.3 786.2L1077.6 790.6L1077.9 784.9L1078.3 778.9
L1078.6 785.9L1078.9 783.8L1079.3 780.0L1079.6 779.1L1079.9 779.3L1080.3 785.2L1080.6 777.8L1081.0 781.5L1081.3 778.8L1081.6 772.8L1082.0 773.1L1082.3 767.2L1082.6 757.4
L1083.0 761.4L1083.3 758.3L1083.6 759.7L1084.0 755.5L1084.3 753.4L1084.6 748.7L1085.0 747.7L1085.3 744.2L1085.6 741.4L1086.0 743.1L1086.3 744.7L1086.6 745.6L1087.0 742.1
L1087.3 745.9L1087.7 746.0L1088.0 749.3L1088.3 756.9L1088.7 757.3L1089.0 767.1L1089.3 759.3L1089.7 765.6L1090.0 772.7L1090.3 778.2L1090.7 776.0L1091.0 784.9L1091.3 783.5
L1091.7 780.7L1092.0 784.2L1092.3 787.1L1092.7 784.1L1093.0 790.7L1093.3 787.8L1093.7 790.6L1094.0 792.2L1094.4 789.1L1094.7 793.5L1095.0 786.1L1095.4 793.0L1095.7 786.6
L1096.0 794.9L1096.4 790.7L1096.7 795.5L1097.0 796.1L1097.4 792.3L1097.7 791.1L1098.0 796.3L1098.4 790.1L1098.7 795.2L1099.0 793.0L1099.4 792.4L1099.7 792.0L1100.0 798.1
L1100.4 789.5L1100.7 792.3L1101.1 794.9L1101.4 796.5L1101.7 798.2L1102.1 797.5L1102.4 792.7L1102.7 795.0L1103.1 797.1L1103.4 795.6L1103.7 790.4L1104.1 795.2L1104.4 795.9
L1104.7 791.1L1105.1 793.4L1105.4 794.5L1105.7 796.1L1106.1 798.5L1106.4 797.6L1106.7 795.9L1107.1 795.3L1107.4 793.9L1107.8 793.4L1108.1 794.3L1108.4 794.3L1108.8 797.3
L1109.1 800.2L1109.4 796.2L1109.8 797.2L1110.1 796.5L1110.4 795.6L1110.8 798.0L1111.1 797.6L1111.4 795.1L1111.8 794.6L1112.1 796.4L1112.4 793.5L1112.8 795.3L1113.1 797.2
L1113.4 794.5L1113.8 789.8L1114.1 796.1L1114.5 791.3L1114.8 790.7L1115.1 790.2L1115.5 795.8L1115.8 788.4L1116.1 793.0L1116.5 793.7L1116.8 793.4L1117.1 790.9L1117.5 792.1
L1117.8 792.3L1118.1 788.2L1118.5 793.1L1118.8 793.7L1119.1 788.5L1119.5 788.5L1119.8 787.2L1120.1 792.9L1120.5 786.9L1120.8 788.5L1121.2 785.1L1121.5 793.3L1121.8 789.5
L1122.2 791.1L1122.5 794.8L1122.8 792.8L1123.2 788.2L1123.5 792.8L1123.8 793.7L1124.2 789.9L1124.5 790.0L1124.8 790.3L1125.2 795.1L1125.5 793.5L1125.8 791.0L1126.2 795.5
L1126.5 795.9L1126.8 792.2L1127.2 790.5L1127.5 797.4L1127.9 801.1L1128.2 798.4L1128.5 797.4L1128.9 795.3L1129.2 793.5L1129.5 795.4L1129.9 796.8L1130.2 794.8L1130.5 797.5
L1130.9 795.3L1131.2 796.8L1131.5 788.7L1131.9 793.2L1132.2 797.3L1132.5 797.6L1132.9 796.3L1133.2 799.2L1133.5 796.9L1133.9 796.9L1134.2 792.9L1134.6 796.1L1134.9 797.0
L1135.2 798.3L1135.6 797.8L1135.9 795.0L1136.2 795.3L1136.6 792.0L1136.9 796.2L1137.2 792.0L1137.6 793.9L1137.9 794.5L1138.2 799.4L1138.6 797.5L1138.9 792.3L1139.2 790.6
L1139.6 793.4L1139.9 791.9L1140.2 794.7L1140.6 794.5L1140.9 795.0L1141.3 790.7L1141.6 792.1L1141.9 793.4L1142.3 793.4L1142.6 790.9L1142.9 791.2L1143.3 794.0L1143.6 786.9
L1143.9 790.5L1144.3 790.8L1144.6 786.4L1144.9 787.2L1145.3 789.7L1145.6 787.5L1145.9 791.4L1146.3 789.6L1146.6 793.6L1146.9 782.9L1147.3 791.1L1147.6 782.6L1148.0 786.0
L1148.3 785.2L1148.6 781.4L1149.0 778.3L1149.3 775.3L1149.6 769.4L1150.0 770.8L1150.3 765.7L1150.6 766.0L1151.0 757.0L1151.3 752.6L1151.6 747.2L1152.0 737.5L1152.3 727.5
L1152.6 715.3L1153.0 701.7L1153.3 690.2L1153.6 675.6L1154.0 655.2L1154.3 646.9L1154.7 629.5L1155.0 611.6L1155.3 617.2L1155.7 609.5L1156.0 609.3L1156.3 625.2L1156.7 625.2
L1157.0 655.6L1157.3 659.5L1157.7 674.8L1158.0 691.7L1158.3 708.8L1158.7 719.4L1159.0 733.9L1159.3 738.2L1159.7 751.9L1160.0 756.1L1160.3 758.0L1160.7 768.9L1161.0 770.6
L1161.4 772.2L1161.7 779.3L1162.0 774.1L1162.4 778.3L1162.7 785.4L1163.0 782.4L1163.4 785.7L1163.7 786.3L1164.0 785.0L1164.4 788.1L1164.7 783.9L1165.0 789.3L1165.4 785.1
L1165.7 788.4L1166.0 786.4L1166.4 790.6L1166.7 790.9L1167.0 792.9L1167.4 788.5L1167.7 787.7L1168.1 784.8L1168.4 787.2L1168.7 790.1L1169.1 791.4L1169.4 789.9L1169.7 791.1
L1170.1 787.1L1170.4 788.5L1170.7 793.2L1171.1 792.7L1171.4 787.0L1171.7 789.6L1172.1 790.8L1172.4 786.6L1172.7 790.5L1173.1 789.8L1173.4 789.7L1173.7 793.3L1174.1 784.5
L1174.4 789.6L1174.8 786.8L1175.1 786.2L1175.4 780.6L1175.8 781.6L1176.1 779.9L1176.4 783.3L1176.8 776.9L1177.1 779.3L1177.4 772.1L1177.8 770.1L1178.1 769.4L1178.4 761.5
L1178.8 764.3L1179.1 762.7L1179.4 762.8L1179.8 762.9L1180.1 758.9L1180.4 758.5L1180.8 765.9L1181.1 759.7L1181.5 762.4L1181.8 762.5L1182.1 765.6L1182.5 772.5L1182.8 774.2
L1183.1 767.2L1183.5 773.8L1183.8 780.7L1184.1 777.3L1184.5 781.1L1184.8 787.2L1185.1 790.1L1185.5 789.4L1185.8 785.2L1186.1 787.2L1186.5 788.9L1186.8 788.3L1187.1 788.3
L1187.5 796.3L1187.8 792.2L1188.2 794.1L1188.5 795.7L1188.8 794.3L1189.2 793.7L1189.5 794.4L1189.8 797.7L1190.2 795.5L1190.5 789.5L1190.8 797.3L1191.2 799.1L1191.5 794.4
L1191.8 793.8L1192.2 794.3L1192.5 798.3L1192.8 793.2L1193.2 797.7L1193.5 798.6L1193.8 797.4L1194.2 796.3L1194.5 794.4L1194.9 794.7L1195.2 796.3L1195.5 794.1L1195.9 796.2
L1196.2 794.4L1196.5 799.9L1196.9 800.3L1197.2 794.8L1197.5 800.0L1197.9 797.5L1198.2 797.0L1198.5 798.0L1198.9 798.0L1199.2 793.7L1199.5 802.9L1199.9 794.9L1200.2 791.7
L1200.5 797.0L1200.9 797.2L1201.2 795.4L1201.6 792.9L1201.9 800.0L1202.2 797.0L1202.6 797.7L1202.9 796.0L1203.2 796.9L1203.6 795.8L1203.9 798.3L1204.2 797.2L1204.6 798.9
L1204.9 798.9L1205.2 797.7L1205.6 797.8L1205.9 800.2L1206.2 793.8L1206.6 797.8L1206.9 800.7L1207.2 794.9L1207.6 799.2L1207.9 796.3L1208.3 797.6L1208.6 797.0L1208.9 797.1
L1209.3 798.9L1209.6 797.5L1209.9 792.9L1210.3 802.8L1210.6 797.4L1210.9 796.6L1211.3 800.0L1211.6 800.8L1211.9 792.6L1212.3 798.5L1212.6 792.8L1212.9 796.4L1213.3 797.4
L1213.6 796.5L1213.9 796.1L1214.3 794.8L1214.6 796.6L1215.0 797.2L1215.3 797.1L1215.6 794.4L1216.0 795.6L1216.3 799.8L1216.6 798.9L1217.0 796.6L1217.3 798.8L1217.6 798.1
L1218.0 799.4L1218.3 797.7L1218.6 795.9L1219.0 794.4L1219.3 796.5L1219.6 791.4L1220.0 796.2L1220.3 788.1L1220.6 793.0L1221.0 793.9L1221.3 796.0L1221.7 801.4L1222.0 794.4
L1222.3 793.3L1222.7 788.5L1223.0 796.7L1223.3 788.2L1223.7 793.6L1224.0 791.2L1224.3 799.7L1224.7 793.1L1225.0 794.6L1225.3 792.4L1225.7 794.2L1226.0 797.7L1226.3 792.9
L1226.7 793.9L1227.0 794.4L1227.3 793.7L1227.7 793.8L1228.0 796.7L1228.4 800.1L1228.7 800.3L1229.0 794.0L1229.4 795.7L1229.7 797.2L1230.0 798.5L1230.4 797.5L1230.7 797.6
L1231.0 798.5L1231.4 799.3L1231.7 792.8L1232.0 797.3L1232.4 799.2L1232.7 800.8L1233.0 799.5L1233.4 796.2L1233.7 796.1L1234.0 798.4L1234.4 797.8L1234.7 798.6L1235.1 800.5
L1235.4 795.0L1235.7 797.1L1236.1 792.3L1236.4 799.7L1236.7 798.3L1237.1 796.0L1237.4 798.6L1237.7 801.2L1238.1 800.2L1238.4 797.8L1238.7 797.2L1239.1 798.3L1239.4 795.7
L1239.7 795.8L1240.1 797.3L1240.4 798.0L1240.7 798.6L1241.1 796.8L1241.4 796.0L1241.8 797.9L1242.1 797.0L1242.4 798.8L1242.8 801.3L1243.1 800.4L1243.4 796.3L1243.8 797.1
L1244.1 794.4L1244.4 797.9L1244.8 796.0L1245.1 794.9L1245.4 795.7L1245.8 799.3L1246.1 798.3L1246.4 797.5L1246.8 800.1L1247.1 796.7L1247.4 795.4L1247.8 798.8L1248.1 793.1
L1248.5 798.3L1248.8 798.1L1249.1 798.1L1249.5 799.2L1249.8 796.5L1250.1 797.4L1250.5 793.6L1250.8 796.0L1251.1 796.1L1251.5 797.8L1251.8 800.6L1252.1 797.4L1252.5 799.2
L1252.8 794.9L1253.1 797.2L1253.5 793.2L1253.8 795.3L1254.1 795.1L1254.5 796.4L1254.8 796.5L1255.2 795.4L1255.5 794.7L1255.8 798.5L1256.2 795.6L1256.5 790.6L1256.8 796.9
L1257.2 797.3L1257.5 798.3L1257.8 800.1L1258.2 793.8L1258.5 796.4L1258.8 795.8L1259.2 792.1L1259.5 790.5L1259.8 798.5L1260.2 793.8L1260.5 794.8L1260.8 795.3L1261.2 795.1
L1261.5 796.3L1261.9 792.4L1262.2 794.7L1262.5 795.2L1262.9 793.0L1263.2 793.8L1263.5 794.8L1263.9 795.1L1264.2 791.6L1264.5 794.5L1264.9 795.9L1265.2 797.8L1265.5 796.5
L1265.9 798.1L1266.2 795.3L1266.5 794.9L1266.9 800.4L1267.2 795.3L1267.5 793.7L1267.9 794.9L1268.2 797.6L1268.6 792.1L1268.9 796.8L1269.2 798.1L1269.6 797.7L1269.9 795.0
L1270.2 792.5L1270.6 792.0L1270.9 794.3L1271.2 797.7L1271.6 796.3L1271.9 796.9L1272.2 795.1L1272.6 799.0L1272.9 794.2L1273.2 792.9L1273.6 794.8L1273.9 793.2L1274.2 796.7
L1274.6 797.9L1274.9 795.8L1275.3 791.3L1275.6 791.5L1275.9 795.2L1276.3 791.0L1276.6 794.8L1276.9 790.1L1277.3 792.6L1277.6 794.9L1277.9 791.7L1278.3 795.6L1278.6 796.0
L1278.9 797.2L1279.3 793.0L1279.6 793.8L1279.9 793.9L1280.3 794.8L1280.6 790.2L1280.9 795.0L1281.3 795.8L1281.6 790.9L1282.0 790.5L1282.3 793.3L1282.6 798.6L1283.0 795.8
L1283.3 792.8L1283.6 794.3L1284.0 790.6L1284.3 797.9L1284.6 792.9L1285.0 796.2L1285.3 791.4L1285.6 794.9L1286.0 792.2L1286.3 796.4L1286.6 798.3L1287.0 797.6L1287.3 796.5
L1287.6 797.5L1288.0 792.1L1288.3 791.8L1288.7 794.5L1289.0 797.7L1289.3 795.5L1289.7 797.0L1290.0 791.8L1290.3 794.6L1290.7 794.2L1291.0 796.4L1291.3 800.4L1291.7 797.4
L1292.0 798.2L1292.3 794.6L1292.7 795.2L1293.0 797.4L1293.3 796.3L1293.7 791.5L1294.0 797.6L1294.3 797.4L1294.7 795.6L1295.0 796.7L1295.4 795.9L1295.7 793.3L1296.0 790.1
L1296.4 798.6L1296.7 793.9L1297.0 793.4L1297.4 793.4L1297.7 793.2L1298.0 793.1L1298.4 789.0L1298.7 792.3L1299.0 790.7L1299.4 789.6L1299.7 788.6L1300.0 788.5L1300.4 784.4
L1300.7 786.5L1301.0 785.2L1301.4 785.1L1301.7 787.4L1302.1 786.4L1302.4 786.8L1302.7 783.0L1303.1 785.8L1303.4 787.1L1303.7 783.7L1304.1 783.5L1304.4 790.9L1304.7 781.7
L1305.1 787.3L1305.4 788.5L1305.7 786.1L1306.1 789.6L1306.4 792.2L1306.7 785.5L1307.1 794.7L1307.4 792.7L1307.7 790.8L1308.1 796.2L1308.4 794.1L1308.8 793.3L1309.1 788.6
L1309.4 797.0L1309.8 795.1L1310.1 793.6L1310.4 795.1L1310.8 798.4L1311.1 794.6L1311.4 795.4L1311.8 794.6L1312.1 793.0L1312.4 793.3L1312.8 794.8L1313.1 795.0L1313.4 798.4
L1313.8 796.1L1314.1 795.2L1314.4 796.6L1314.8 795.4L1315.1 797.5L1315.5 791.7L1315.8 790.1L1316.1 796.2L1316.5 794.2L1316.8 795.6L1317.1 791.8L1317.5 793.7L1317.8 794.5
L1318.1 795.1L1318.5 794.0L1318.8 796.7L1319.1 792.3L1319.5 795.7L1319.8 792.4L1320.1 793.3L1320.5 790.7L1320.8 793.4L1321.1 790.7L1321.5 795.6L1321.8 791.7L1322.2 793.8
L1322.5 792.8L1322.8 793.2L1323.2 791.1L1323.5 798.7L1323.8 792.9L1324.2 797.6L1324.5 791.0L1324.8 799.1L1325.2 796.9L1325.5 798.7L1325.8 790.7L1326.2 798.1L1326.5 794.9
L1326.8 796.6L1327.2 799.9L1327.5 796.5L1327.8 794.2L1328.2 796.4L1328.5 793.9L1328.9 797.1L1329.2 796.4L1329.5 797.4L1329.9 795.8L1330.2 792.2L1330.5 795.9L1330.9 796.4
L1331.2 798.4L1331.5 798.8L1331.9 793.6L1332.2 799.7L1332.5 799.3L1332.9 797.5L1333.2 798.3L1333.5 792.7L1333.9 802.9L1334.2 796.5L1334.5 795.7L1334.9 800.0L1335.2 798.9
L1335.6 796.4L1335.9 793.6L1336.2 799.5L1336.6 801.1L1336.9 795.1L1337.2 793.8L1337.6 798.2L1337.9 802.5L1338.2 794.0L1338.6 797.8L1338.9 794.7L1339.2 797.5L1339.6 798.2
L1339.9 798.4L1340.2 793.9L1340.6 794.0L1340.9 802.3L1341.2 799.5L1341.6 793.1L1341.9 798.1L1342.3 800.4L1342.6 797.2L1342.9 797.5L1343.3 797.4L1343.6 798.3L1343.9 797.9
L1344.3 798.2L1344.6 796.3L1344.9 799.0L1345.3 797.8L1345.6 797.4L1345.9 794.0L1346.3 796.1L1346.6 797.2L1346.9 795.7L1347.3 796.0L1347.6 794.3L1347.9 795.7L1348.3 792.6
L1348.6 793.6L1349.0 796.8L1349.3 797.7L1349.6 794.6L1350.0 795.4L1350.3 796.8L1350.6 800.0L1351.0 800.8L1351.3 795.6L1351.6 794.5L1352.0 794.3L1352.3 799.3L1352.6 793.6
L1353.0 797.3L1353.3 795.0L1353.6 794.8L1354.0 797.7L1354.3 797.1L1354.6 800.5L1355.0 797.6L1355.3 799.6L1355.7 793.9L1356.0 794.6L1356.3 792.2L1356.7 793.3L1357.0 795.4
L1357.3 792.5L1357.7 794.0L1358.0 790.9L1358.3 791.1L1358.7 793.9L1359.0 790.6L1359.3 789.8L1359.7 790.1L1360.0 786.0L1360.3 783.0L1360.7 788.3L1361.0 787.7L1361.3 792.8
L1361.7 786.4L1362.0 787.2L1362.4 792.3L1362.7 785.4L1363.0 784.8L1363.4 788.9L1363.7 788.2L1364.0 790.2L1364.4 785.6L1364.7 792.2L1365.0 789.0L1365.4 782.7L1365.7 788.0
L1366.0 786.7L1366.4 788.2L1366.7 790.8L1367.0 787.2L1367.4 785.4L1367.7 788.8L1368.0 784.1L1368.4 780.5L1368.7 780.0L1369.1 786.7L1369.4 783.6L1369.7 784.0L1370.1 774.4
L1370.4 774.0L1370.7 771.8L1371.1 774.4L1371.4 773.0L1371.7 766.8L1372.1 764.1L1372.4 764.1L1372.7 758.2L1373.1 753.6L1373.4 751.6L1373.7 752.1L1374.1 751.8L1374.4 742.9
L1374.7 738.2L1375.1 736.0L1375.4 733.3L1375.8 731.0L1376.1 724.0L1376.4 723.9L1376.8 721.3L1377.1 723.1L1377.4 721.2L1377.8 718.5L1378.1 722.3L1378.4 724.0L1378.8 722.7
L1379.1 720.2L1379.4 725.6L1379.8 724.6L1380.1 732.4L1380.4 736.2L1380.8 742.8L1381.1 743.9L1381.4 741.3L1381.8 748.1L1382.1 750.2L1382.5 753.5L1382.8 758.8L1383.1 762.3
L1383.5 764.2L1383.8 765.2L1384.1 768.3L1384.5 770.5L1384.8 773.6L1385.1 778.4L1385.5 778.7L1385.8 782.3L1386.1 778.0L1386.5 788.7L1386.8 784.3L1387.1 777.7L1387.5 786.8
L1387.8 789.9L1388.1 787.5L1388.5 784.6L1388.8 789.3L1389.2 787.8L1389.5 789.7L1389.8 791.5L1390.2 782.5L1390.5 791.1L1390.8 793.1L1391.2 793.3L1391.5 791.3L1391.8 791.5
L1392.2 790.8L1392.5 792.6"/>
</g>
<g stroke="#161616" stroke-width="3.2" fill="none" stroke-linecap="butt">
<path d="M186.5 17.6V834.3"/>
<path d="M184.9 833.0H1394"/>
<path stroke-width="2.7" d="M1392.1 300V834.3"/>
<path stroke-width="3.0" d="M170.6 18.8H945"/>
</g>
<g stroke="#161616" stroke-width="2.7" fill="none" stroke-linecap="round">
<path d="M171.8 819.1H185"/>
<path d="M171.8 685.8H185"/>
<path d="M171.8 552.4H185"/>
<path d="M171.8 419.1H185"/>
<path d="M171.8 285.8H185"/>
<path d="M171.8 152.4H185"/>
<path d="M171.8 19.1H185"/>
<path d="M320.7 834V847.3"/>
<path d="M589.0 834V847.3"/>
<path d="M856.9 834V847.3"/>
<path d="M1125.3 834V847.3"/>
<path d="M1392.9 834V847.3"/>
</g>
<text class="tk" transform="translate(159.4 834.7) scale(0.977 1.07)" text-anchor="end">0</text>
<text class="tk" transform="translate(159.4 701.4) scale(0.977 1.07)" text-anchor="end">500</text>
<text class="tk" transform="translate(159.4 568.0) scale(0.977 1.07)" text-anchor="end">1000</text>
<text class="tk" transform="translate(159.4 434.7) scale(0.977 1.07)" text-anchor="end">1500</text>
<text class="tk" transform="translate(159.4 301.4) scale(0.977 1.07)" text-anchor="end">2000</text>
<text class="tk" transform="translate(159.4 168.0) scale(0.977 1.07)" text-anchor="end">2500</text>
<text class="tk" transform="translate(159.4 34.7) scale(0.977 1.07)" text-anchor="end">3000</text>
<text class="tk" transform="translate(320.4 900.0) scale(1 1.05)" text-anchor="middle">20</text>
<text class="tk" transform="translate(588.0 900.0) scale(1 1.05)" text-anchor="middle">40</text>
<text class="tk" transform="translate(855.5 900.0) scale(1 1.05)" text-anchor="middle">60</text>
<text class="tk" transform="translate(1123.9 900.0) scale(1 1.05)" text-anchor="middle">80</text>
<text class="tk" transform="translate(1392.5 900.0) scale(1 1.05)" text-anchor="middle">100</text>
<text class="xl" transform="translate(789.3 954.3) scale(1 0.97)" text-anchor="middle">2Ɵ (deg.)</text>
<text class="yl" transform="translate(34.9 430.3) rotate(-90)" text-anchor="middle">Intensity (a.u.)</text>
<g fill="#000">
<path d="M467.1 626.8L477.3 647.1L467.1 667.4L456.9 647.1Z"/>
<path d="M531.9 531.6L542.1 551.9L531.9 572.2L521.7 551.9Z"/>
<path d="M701.2 548.2L711.4 568.5L701.2 588.8L691.0 568.5Z"/>
<path d="M1028.2 672.0L1038.4 692.3L1028.2 712.6L1018.0 692.3Z"/>
<path d="M1063.1 698.9L1073.3 719.2L1063.1 739.5L1052.9 719.2Z"/>
<path d="M1089.6 691.8L1099.8 712.1L1089.6 732.4L1079.4 712.1Z"/>
<path d="M1182.5 710.4L1192.7 730.7L1182.5 751.0L1172.3 730.7Z"/>
<rect x="638.1" y="52.5" width="32.0" height="31.2"/>
<rect x="902.4" y="593.4" width="31.4" height="30.5"/>
<rect x="1139.3" y="519.9" width="32.3" height="31.4"/>
<rect x="1354.6" y="679.4" width="31.4" height="31.7"/>
<path d="M602.0 678.3L638.6 678.3L620.3 709.5Z"/>
<path d="M844.3 736.6L880.6 736.6L862.6 766.2Z"/>
<ellipse cx="578.1" cy="759.5" rx="14.1" ry="14.1"/>
<ellipse cx="621.2" cy="738.0" rx="15.8" ry="15.4"/>
</g>
<path fill="none" stroke="#000" stroke-width="3.9" stroke-linejoin="miter" d="M653.5 93.3L673.2 113.0L653.5 132.7L633.8 113.0Z"/>
<path fill="none" stroke="#000" stroke-width="3.7" stroke-linejoin="miter" d="M918.6 638.0L938.4 657.5L918.6 677.0L898.8 657.5Z"/>
<path fill="none" stroke="#000" stroke-width="3.8" stroke-linejoin="miter" d="M1156.2 560.6L1176.3 580.9L1156.2 601.2L1136.1 580.9Z"/>
<rect x="942.7" y="18.1" width="449.9" height="285.2" fill="#fff"/>
<g stroke="#000" fill="none">
<path stroke-width="3.8" d="M940.7 18.2H1394.3"/>
<path stroke-width="3.1" d="M940.7 65.75H1394.0"/>
<path stroke-width="1.4" d="M940.7 113.2H1395.4"/>
<path stroke-width="1.4" d="M940.7 160.5H1395.4"/>
<path stroke-width="1.6" d="M940.7 208H1395.4"/>
<path stroke-width="1.5" d="M940.7 255.3H1168"/>
<path stroke-width="3.0" d="M1167 255.8H1394"/>
<path stroke-width="3.1" d="M940.7 303.1H1394"/>
<path stroke-width="2.6" d="M943.0 16.3V304.7"/>
<path stroke-width="2.5" d="M1167.9 16.3V304.7"/>
<path stroke-width="2.9" d="M1392.5 16.3V304.7"/>
</g>
<text class="th" x="961.2" y="53.9">Formula</text>
<text class="th" x="1185.6" y="53.9">Symbol</text>
<text class="tc" x="961" y="105">WC</text>
<text class="tc" x="960.6" y="152.3">CoFe</text>
<text class="tc" x="960.6" y="199.6">Fe<tspan class="sb" dx="1.5">3</tspan><tspan dx="1.5">W</tspan><tspan class="sb" dx="1">3</tspan><tspan dx="1.5">C</tspan></text>
<text class="tc" x="960.0" y="246.7">Fe(W)</text>
<text class="tc" x="961.0" y="294.1">Co<tspan class="sb" dx="1.6">3</tspan><tspan dx="1.6">W</tspan><tspan class="sb" dx="1.2">3</tspan><tspan dx="1.6">C</tspan></text>
<g fill="#000">
<path d="M1263.8 68.3L1277.4 89.8L1263.8 111.3L1250.2 89.8Z"/>
<ellipse cx="1266.7" cy="186.3" rx="13.5" ry="14.2"/>
<rect x="1255.0" y="218.9" width="25.7" height="26.9"/>
<path d="M1250.4 265.4L1291.9 265.4L1271.0 300.6Z"/>
</g>
<path fill="none" stroke="#000" stroke-width="3.6" stroke-linejoin="miter" d="M1264.1 118.5L1284.7 138.9L1264.1 159.3L1243.5 138.9Z"/>
</svg></body></html>
